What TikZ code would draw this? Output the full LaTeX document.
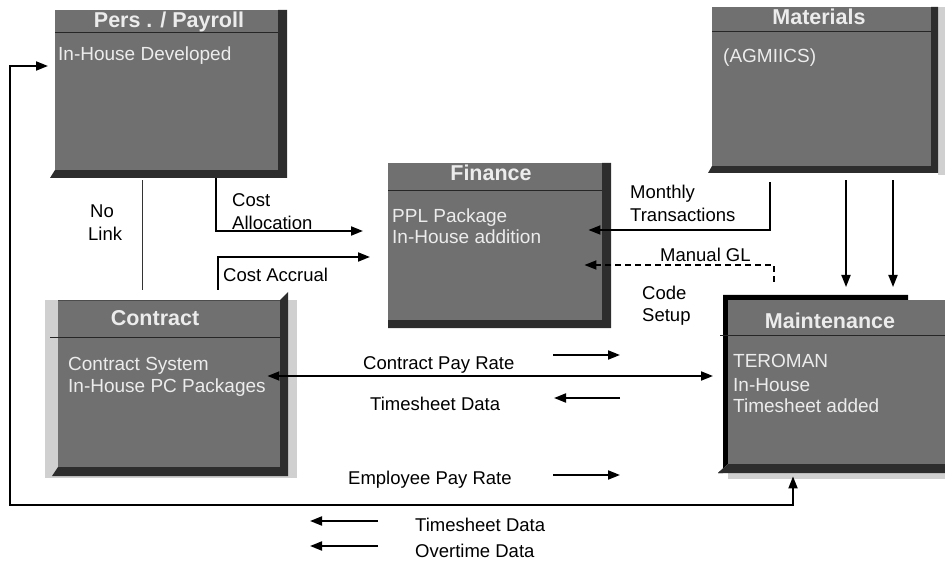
\documentclass[tikz,border=0pt]{standalone}
\usepackage{fontspec}
\setmainfont{Liberation Sans}
\usetikzlibrary{arrows.meta}
\definecolor{panelface}{RGB}{112,112,112}
\definecolor{paneldark}{RGB}{45,45,45}
\definecolor{panelrim}{RGB}{208,208,208}
\definecolor{paneltext}{RGB}{236,236,236}

\begin{document}
\begin{tikzpicture}[x=1pt,y=-1pt,
  face/.style={rectangle, fill=panelface, draw=none, inner sep=0pt, anchor=north west},
  shade/.style={fill=paneldark, draw=none},
  rim/.style={fill=panelrim, draw=none},
  divider/.style={draw=black!85, line width=1pt},
  title/.style={font=\fontsize{21.5}{24}\selectfont\bfseries, text=paneltext, inner sep=0pt, anchor=base},
  body/.style={font=\fontsize{19}{21}\selectfont, text=paneltext, inner sep=0pt, anchor=base west},
  lbl/.style={font=\fontsize{18.5}{21}\selectfont, text=black, inner sep=0pt, anchor=base west},
  flow/.style={draw=black, line width=1.8pt, -{Triangle[length=12pt,width=9pt]}},
  twoway/.style={draw=black, line width=1.8pt, {Triangle[length=12pt,width=9pt]}-{Triangle[length=12pt,width=9pt]}},
  manual/.style={flow, dash pattern=on 6pt off 4pt},
  nolinkline/.style={draw=black!80, line width=0.9pt}
]
\useasboundingbox (0,0) rectangle (945,561);

% ---------- Pers. / Payroll ----------
\fill[shade] (55,170) -- (50,178) -- (287,178) -- (287,10) -- (278,10) -- (278,170) -- cycle;
\node[face, minimum width=223pt, minimum height=160pt] (pers) at (55,10) {};
\draw[divider] (55,33) -- (278,33);
\node[title] (persT) at (169,28) {Pers . / Payroll};
\node[body] (persB) at (58,61) {In-House Developed};

% ---------- Materials ----------
\fill[rim] (938,7) rectangle (945,175);
\fill[shade] (712,166) -- (708,173) -- (938,173) -- (938,7) -- (931,7) -- (931,166) -- cycle;
\node[face, minimum width=219pt, minimum height=159pt] (mater) at (712,7) {};
\draw[divider] (712,32) -- (931,32);
\node[title] (materT) at (819,25) {Materials};
\node[body] (materB) at (723,63) {(AGMIICS)};

% ---------- Finance ----------
\fill[shade] (388,320) -- (388,328) -- (611,328) -- (611,163) -- (602,163) -- (602,320) -- cycle;
\node[face, minimum width=214pt, minimum height=157pt] (fin) at (388,163) {};
\draw[divider] (388,191) -- (602,191);
\node[title] (finT) at (491,181) {Finance};
\node[body] (finB1) at (392,223) {PPL Package};
\node[body] (finB2) at (392,244) {In-House addition};

% ---------- Contract ----------
\fill[rim] (45,300) rectangle (297,478);
\fill[shade] (280,300) -- (288,292) -- (288,476) -- (52,476) -- (58,467) -- (280,467) -- cycle;
\node[face, minimum width=222pt, minimum height=167pt] (contr) at (58,300) {};
\draw[black!70, line width=0.8pt] (58,300) -- (280,300);
\draw[divider] (50,337) -- (280,337);
\node[title] (contrT) at (155,326) {Contract};
\node[body] (contrB1) at (68,370) {Contract System};
\node[body] (contrB2) at (68,392) {In-House PC Packages};

% ---------- Maintenance ----------
\fill[rim] (728,472) rectangle (945,479);
\fill[black] (723,295) -- (908,295) -- (908,300) -- (728,300) -- (728,464) -- (718,473) -- (723,473) -- cycle;
\fill[shade] (718,473) -- (728,464) -- (945,464) -- (945,473) -- cycle;
\node[face, minimum width=217pt, minimum height=164pt] (maint) at (728,300) {};
\draw[divider] (720,335) -- (945,335);
\node[title] (maintT) at (830,328) {Maintenance};
\node[body] (maintB1) at (733,367) {TEROMAN};
\node[body] (maintB2) at (733,391) {In-House};
\node[body] (maintB3) at (733,412) {Timesheet added};

% ---------- route coordinates ----------
\coordinate (xNL) at (142,0);
\coordinate (xCA) at (216,231);
\coordinate (xCC) at (218,257);
\coordinate (xMT) at (770,230);
\coordinate (xMG) at (774,265);
\coordinate (xA1) at (846,0);
\coordinate (xA2) at (893,0);
\coordinate (yCP) at (0,376);
\coordinate (yTop) at (0,66);
\coordinate (loopL) at (10,505);
\coordinate (xB) at (793,0);

% ---------- connectors ----------
\draw[nolinkline, shorten <=10pt, shorten >=10pt] (pers.south -| xNL) -- (contr.north -| xNL);
\draw[flow, shorten <=8pt, shorten >=25pt] (pers.south -| xCA) |- (fin.west |- xCA);
\draw[flow, shorten <=10pt, shorten >=18pt] (contr.north -| xCC) |- (fin.west |- xCC);
\draw[flow, shorten <=16pt, shorten >=-14pt] (mater.south -| xMT) |- (fin.east |- xMT);
\draw[manual, shorten <=18pt, shorten >=-18pt] (maint.north -| xMG) |- (fin.east |- xMG);
\draw[flow, shorten <=14pt, shorten >=13pt] (mater.south -| xA1) -- (maint.north -| xA1);
\draw[flow, shorten <=14pt, shorten >=13pt] (mater.south -| xA2) -- (maint.north -| xA2);
\draw[twoway, shorten <=-13pt, shorten >=15pt] (contr.east |- yCP) -- (maint.west |- yCP);
\draw[twoway, shorten <=7pt, shorten >=12pt] (pers.west |- yTop) -| (loopL) -| (maint.south -| xB);

% ---------- labels ----------
\node[lbl] (lNo) at (90,218) {No};
\node[lbl] (lLink) at (88,241) {Link};
\node[lbl] (lCost) at (232,207) {Cost};
\node[lbl] (lAlloc) at (232,230) {Allocation};
\node[lbl] (lAccr) at (223,282) {Cost Accrual};
\node[lbl] (lMonth) at (630,199) {Monthly};
\node[lbl] (lTrans) at (630,222) {Transactions};
\node[lbl] (lGL) at (660,262) {Manual GL};
\node[lbl] (lCode) at (642,300) {Code};
\node[lbl] (lSetup) at (642,322) {Setup};
\node[lbl] (lCPR) at (363,369) {Contract Pay Rate};
\node[lbl] (lTS) at (370,410) {Timesheet Data};
\node[lbl] (lEPR) at (348,484) {Employee Pay Rate};
\node[lbl] (lgTS) at (415,531) {Timesheet Data};
\node[lbl] (lgOT) at (415,557) {Overtime Data};

% ---------- direction markers ----------
\coordinate (cprA) at (553,355);
\coordinate (cprB) at (620,355);
\coordinate (tsA) at (620,398);
\coordinate (tsB) at (554,398);
\coordinate (eprA) at (553,475);
\coordinate (eprB) at (620,475);
\coordinate (lg1A) at (378,521);
\coordinate (lg1B) at (310,521);
\coordinate (lg2A) at (378,546);
\coordinate (lg2B) at (310,546);
\draw[flow] (cprA) -- (cprB);
\draw[flow] (tsA) -- (tsB);
\draw[flow] (eprA) -- (eprB);
\draw[flow] (lg1A) -- (lg1B);
\draw[flow] (lg2A) -- (lg2B);
\end{tikzpicture}
\end{document}
